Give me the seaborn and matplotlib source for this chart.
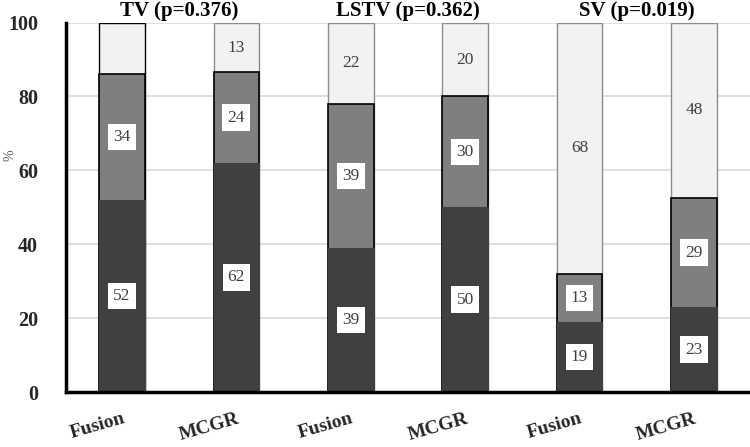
import matplotlib
matplotlib.use("Agg")
import matplotlib.pyplot as plt
import seaborn as sns
import numpy as np
import pandas as pd

# ---- data ----
groups = ["TV (p=0.376)", "LSTV (p=0.362)", "SV (p=0.019)"]
treatments = ["Fusion", "MCGR"]
dark_vals = [52, 62, 39, 50, 19, 23]
mid_vals = [34, 24.5, 39, 30, 13, 29.5]
light_vals = [14, 13.5, 22, 20, 68, 47.5]
dark_labels = ["52", "62", "39", "50", "19", "23"]
mid_labels = ["34", "24", "39", "30", "13", "29"]
light_labels = ["", "13", "22", "20", "68", "48"]
y_ticks = [0, 20, 40, 60, 80, 100]

keys = [f"{g}|{t}" for g in groups for t in treatments]
tick_text = [t for g in groups for t in treatments]

dark = np.array(dark_vals, dtype=float)
mid = np.array(mid_vals, dtype=float)
light = np.array(light_vals, dtype=float)
cum_mid = dark + mid
cum_all = dark + mid + light

df = pd.DataFrame({"key": keys, "dark": dark, "cum_mid": cum_mid, "cum_all": cum_all})

sns.set_theme(style="white")
plt.rcParams["font.family"] = ["Liberation Serif", "DejaVu Serif"]

fig = plt.figure(figsize=(7.5, 4.47), dpi=100)
ax = fig.add_axes([0.088, 0.123, 0.912, 0.8265])

C_DARK, C_MID, C_LIGHT = "#404040", "#7f7f7f", "#f2f2f2"

sns.barplot(data=df, x="key", y="cum_all", order=keys, color=C_LIGHT, width=0.4,
            saturation=1, ax=ax, linewidth=1.0, edgecolor="#8c8c8c", zorder=2)
sns.barplot(data=df, x="key", y="cum_mid", order=keys, color=C_MID, width=0.4,
            saturation=1, ax=ax, linewidth=1.2, edgecolor="black", zorder=3)
sns.barplot(data=df, x="key", y="dark", order=keys, color=C_DARK, width=0.4,
            saturation=1, ax=ax, linewidth=0.8, edgecolor=C_DARK, zorder=4)

# first light bar has black outline
ax.patches[0].set_edgecolor("black")

lbl_kw = dict(ha="center", va="center", fontsize=12.5, color="#404040", zorder=6)
box = dict(boxstyle="square,pad=0.3", fc="white", ec="none")
for i in range(len(keys)):
    ax.text(i, dark[i] / 2, dark_labels[i], bbox=box, **lbl_kw)
    ax.text(i, dark[i] + mid[i] / 2, mid_labels[i], bbox=box, **lbl_kw)
    if light_labels[i]:
        ax.text(i, cum_mid[i] + light[i] / 2, light_labels[i], **lbl_kw)

# group titles
trans = matplotlib.transforms.blended_transform_factory(ax.transData, fig.transFigure)
for gi, g in enumerate(groups):
    ax.text(gi * 2 + 0.5, 1 - 1.0 / 447, g, ha="center", va="top", fontsize=15,
            fontweight="bold", color="black", transform=trans, clip_on=False)

ax.set_xlim(-0.49, 5.49)
ax.set_ylim(0, 100)
ax.set_yticks(y_ticks)
ax.set_yticklabels([str(v) for v in y_ticks], fontsize=14.5, fontweight="bold")
ax.tick_params(axis="y", length=0, pad=20)
ax.set_xticks(range(len(keys)))
ax.set_xticklabels(tick_text, fontsize=14, fontweight="bold", rotation=16,
                   ha="right", rotation_mode="anchor")
ax.tick_params(axis="x", length=0, pad=13)
ax.set_xlabel("")
ax.set_ylabel("%", fontsize=10, color="#595959")
ax.yaxis.set_label_coords(-0.072, 0.64)

ax.grid(axis="y", color="#d9d9d9", linewidth=1.2, zorder=0)
ax.set_axisbelow(True)
for s in ["top", "right"]:
    ax.spines[s].set_visible(False)
ax.spines["left"].set_linewidth(2.5)
ax.spines["left"].set_color("black")
ax.spines["bottom"].set_linewidth(2.5)
ax.spines["bottom"].set_color("black")
ax.spines["left"].set_zorder(7)
ax.spines["bottom"].set_zorder(7)

fig.savefig("out.png", dpi=100)
